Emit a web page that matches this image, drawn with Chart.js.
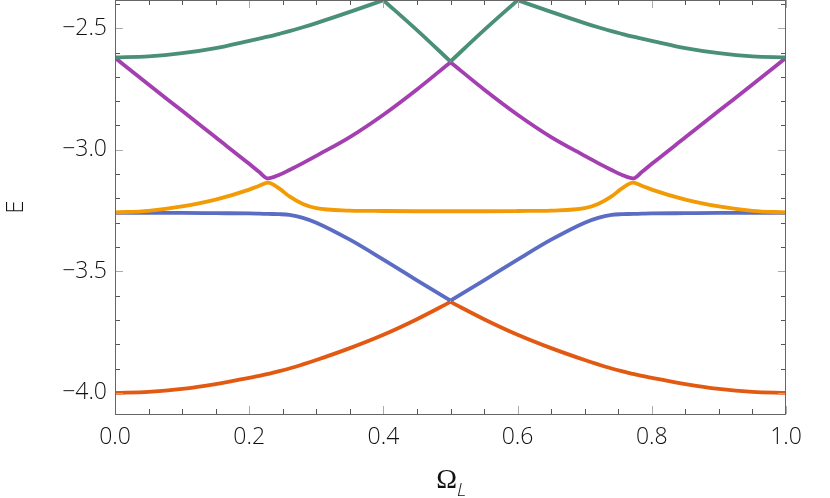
<!DOCTYPE html>
<html>
<head>
<meta charset="utf-8">
<script src="https://cdn.jsdelivr.net/npm/chart.js@4"></script>
<style>
html,body{margin:0;padding:0;background:#fff}
#wrap{width:830px;height:498px}
</style>
</head>
<body>
<div id="wrap"><canvas id="bands"></canvas></div>
<script>
// Omega_L grid and the five energy bands
const omega=[0,0.05,0.1,0.15,0.2,0.215,0.228,0.245,0.26,0.28,0.3,0.35,0.4,0.45,0.5,
             0.55,0.6,0.65,0.7,0.72,0.74,0.755,0.772,0.785,0.8,0.85,0.9,0.95,1.0];
const bandGreen=[-2.620,-2.616,-2.603,-2.582,-2.552,-2.543,-2.535,-2.523,-2.512,-2.496,-2.479,-2.433,-2.385,-2.508,-2.637,
                 -2.508,-2.385,-2.433,-2.479,-2.496,-2.512,-2.523,-2.535,-2.543,-2.552,-2.582,-2.603,-2.616,-2.620];
const bandPurple=[-2.622,-2.732,-2.840,-2.949,-3.058,-3.092,-3.118,-3.103,-3.083,-3.055,-3.025,-2.948,-2.856,-2.752,-2.640,
                  -2.752,-2.856,-2.948,-3.025,-3.055,-3.083,-3.103,-3.118,-3.092,-3.058,-2.949,-2.840,-2.732,-2.622];
const bandOrange=[-3.258,-3.251,-3.233,-3.205,-3.164,-3.148,-3.135,-3.160,-3.192,-3.223,-3.240,-3.250,-3.252,-3.253,-3.253,
                  -3.253,-3.252,-3.250,-3.240,-3.223,-3.192,-3.160,-3.135,-3.148,-3.164,-3.205,-3.233,-3.251,-3.258];
const bandBlue=[-3.260,-3.260,-3.260,-3.261,-3.262,-3.263,-3.264,-3.265,-3.268,-3.280,-3.300,-3.370,-3.452,-3.537,-3.621,
                -3.537,-3.452,-3.370,-3.300,-3.280,-3.268,-3.265,-3.264,-3.263,-3.262,-3.261,-3.260,-3.260,-3.260];
const bandRed=[-4.000,-3.996,-3.984,-3.964,-3.938,-3.930,-3.922,-3.911,-3.900,-3.883,-3.865,-3.816,-3.761,-3.697,-3.626,
               -3.697,-3.761,-3.816,-3.865,-3.883,-3.900,-3.911,-3.922,-3.930,-3.938,-3.964,-3.984,-3.996,-4.000];

// colour + x positions where a band has a sharp corner (curve is split there)
const bands=[[bandGreen,"#4a9076",[0.4,0.5,0.6]],
             [bandPurple,"#a43fb2",[0.5]],
             [bandOrange,"#f29b05",[]],
             [bandBlue,"#5b6cc4",[0.5]],
             [bandRed,"#e25a12",[0.5]]];
const FONT="'Open Sans'";

function pieces(vals,col,cuts){
  const out=[];let cur=[];
  omega.forEach((o,i)=>{
    cur.push({x:o,y:vals[i]});
    if(cuts.includes(o)){out.push(cur);cur=[{x:o,y:vals[i]}];}
  });
  out.push(cur);
  return out.map(d=>({data:d,borderColor:col,borderWidth:3.8,pointRadius:0,
    cubicInterpolationMode:"monotone",fill:false}));
}

/* frame, inward ticks (major+minor) and the Omega_L label */
const frame={id:"frame",afterDraw(c){
  const {ctx,chartArea:a,scales:{x,y}}=c;
  ctx.save();
  ctx.lineWidth=1;
  const tick=(x1,y1,x2,y2,col)=>{ctx.strokeStyle=col;ctx.beginPath();ctx.moveTo(x1,y1);ctx.lineTo(x2,y2);ctx.stroke();};
  for(let i=0;i<=20;i++){
    const v=i*0.05,px=Math.round(x.getPixelForValue(v))+0.5,maj=i%4===0,len=maj?8:5,col=maj?"#aaa":"#555";
    tick(px,a.bottom,px,a.bottom-len,col);
    tick(px,a.top,px,a.top+len,col);
  }
  for(let i=0;i<=17;i++){
    const v=-4.0+i*0.1;if(v>y.max)break;
    const py=Math.round(y.getPixelForValue(v))+0.5,maj=i%5===0,len=maj?8:5,col=maj?"#aaa":"#555";
    tick(a.left,py,a.left+len,py,col);
    tick(a.right,py,a.right-len,py,col);
  }
  ctx.strokeStyle="#666";
  ctx.strokeRect(a.left+0.5,a.top+0.5,a.right-a.left-1,a.bottom-a.top);
  // x title: Omega with italic subscript L
  ctx.fillStyle="#111";
  ctx.textBaseline="alphabetic";
  ctx.font="28px 'Liberation Serif'";
  ctx.textAlign="right";
  ctx.fillText("Ω",457,488);
  ctx.textAlign="left";
  ctx.font="italic 300 19px "+FONT;
  ctx.fillText("L",457,496);
  ctx.restore();
}};

new Chart(document.getElementById("bands"),{
  type:"line",
  data:{datasets:bands.flatMap(([vals,col,cuts])=>pieces(vals,col,cuts))},
  options:{
    responsive:true,maintainAspectRatio:false,animation:false,
    layout:{padding:{top:0,right:44,left:0,bottom:0}},
    plugins:{legend:{display:false},tooltip:{enabled:false}},
    scales:{
      x:{type:"linear",min:0,max:1,
        grid:{display:false,drawTicks:false},border:{display:false},
        ticks:{stepSize:0.2,padding:10,color:"#111",font:{family:FONT,size:23,weight:300},
          callback:v=>v.toFixed(1)},
        afterFit:s=>{s.height=84;s.paddingLeft=0;s.paddingRight=0;}},
      y:{type:"linear",min:-4.087,max:-2.384,
        grid:{display:false,drawTicks:false},border:{display:false},
        title:{display:true,text:"E",color:"#111",font:{family:FONT,size:24,weight:300},padding:{top:2,bottom:0}},
        ticks:{stepSize:0.5,includeBounds:false,padding:8,color:"#111",font:{family:FONT,size:23,weight:300},
          callback:v=>"\u2212"+Math.abs(v).toFixed(1)},
        afterFit:s=>{s.width=115;s.paddingTop=0;s.paddingBottom=0;}}
    }
  },
  plugins:[frame]
});
</script>
</body>
</html>
